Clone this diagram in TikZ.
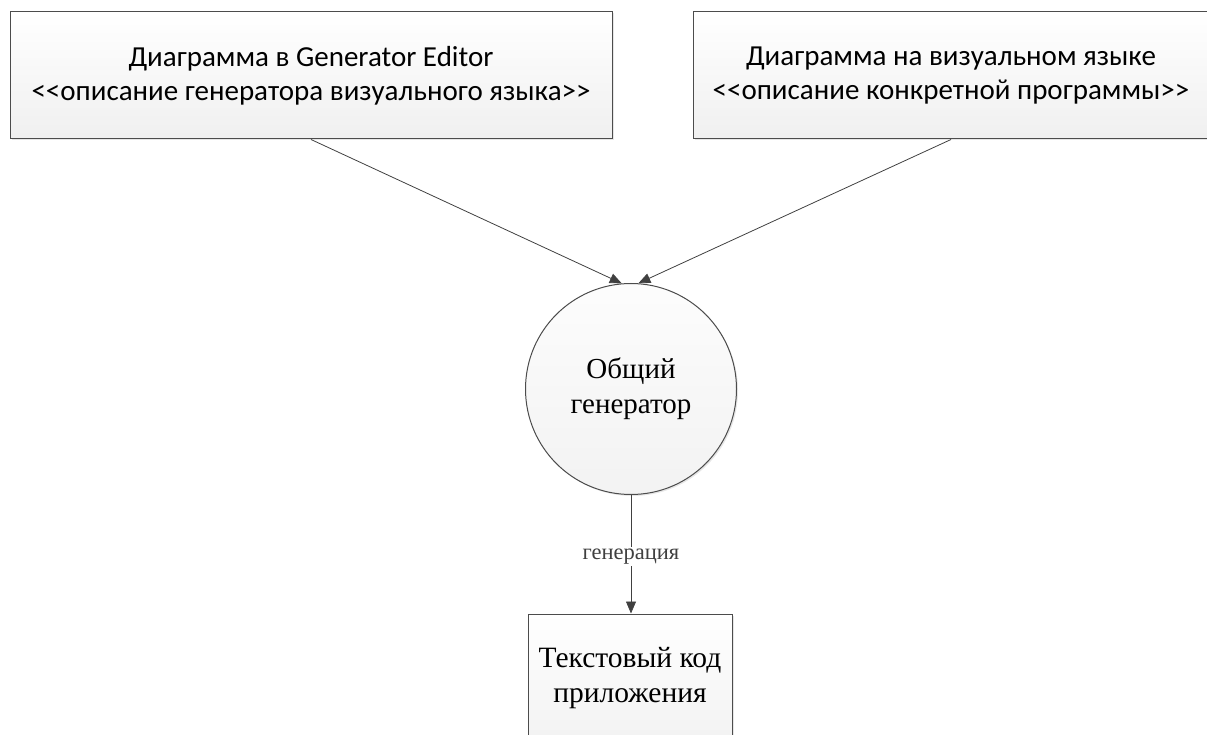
\documentclass[tikz,border=0pt]{standalone}
\usepackage{fontspec}
\setmainfont{Liberation Serif}
\newfontfamily\boxfont{Carlito}
\usetikzlibrary{arrows.meta,positioning,calc,shadows}

\begin{document}
\begin{tikzpicture}[x=1pt, y=-1pt,
  softshadow/.style={drop shadow={shadow xshift=1.5pt, shadow yshift=-1.5pt,
    opacity=0.2}},
  descbox/.style={draw=black!70, line width=1pt, rectangle,
    minimum height=127pt,
    top color=white, bottom color=black!6, softshadow,
    font=\boxfont\fontsize{29}{34}\selectfont, align=center},
  gen/.style={draw=black!70, line width=1pt, circle, minimum size=211pt,
    top color=black!1, bottom color=black!5, softshadow,
    font=\fontsize{29}{35}\selectfont, align=center},
  codebox/.style={draw=black!70, line width=1pt, rectangle,
    minimum width=204pt, minimum height=128pt,
    top color=white, bottom color=black!5, softshadow,
    font=\fontsize{29.5}{35}\selectfont, align=center},
  arrow/.style={-{Triangle[length=12pt, width=10pt]}, line width=0.8pt, black!75}
]
\useasboundingbox (0,0) rectangle (1207,735);
\clip (0,0) rectangle (1207,735);

\node[descbox, minimum width=602pt] (ed) at (311,75.5)
  {Диаграмма в Generator Editor\\<<описание генератора визуального языка>>};
\node[descbox, minimum width=516pt] (prog) at (951,75.5)
  {Диаграмма на визуальном языке\\<<описание конкретной программы>>};

\node[gen] (gen) at (631,389) {Общий\\генератор};

\node[codebox] (code) at (630,678) {Текстовый код\\приложения};

\draw[arrow] (ed.south) -- (gen.95);
\draw[arrow] (prog.south) -- (gen.86);
\draw[arrow] (gen.south) -- (gen.south |- code.north)
  node[pos=0.52, fill=white, inner sep=2pt, font=\fontsize{22.5}{24}\selectfont] {генерация};

\end{tikzpicture}
\end{document}
